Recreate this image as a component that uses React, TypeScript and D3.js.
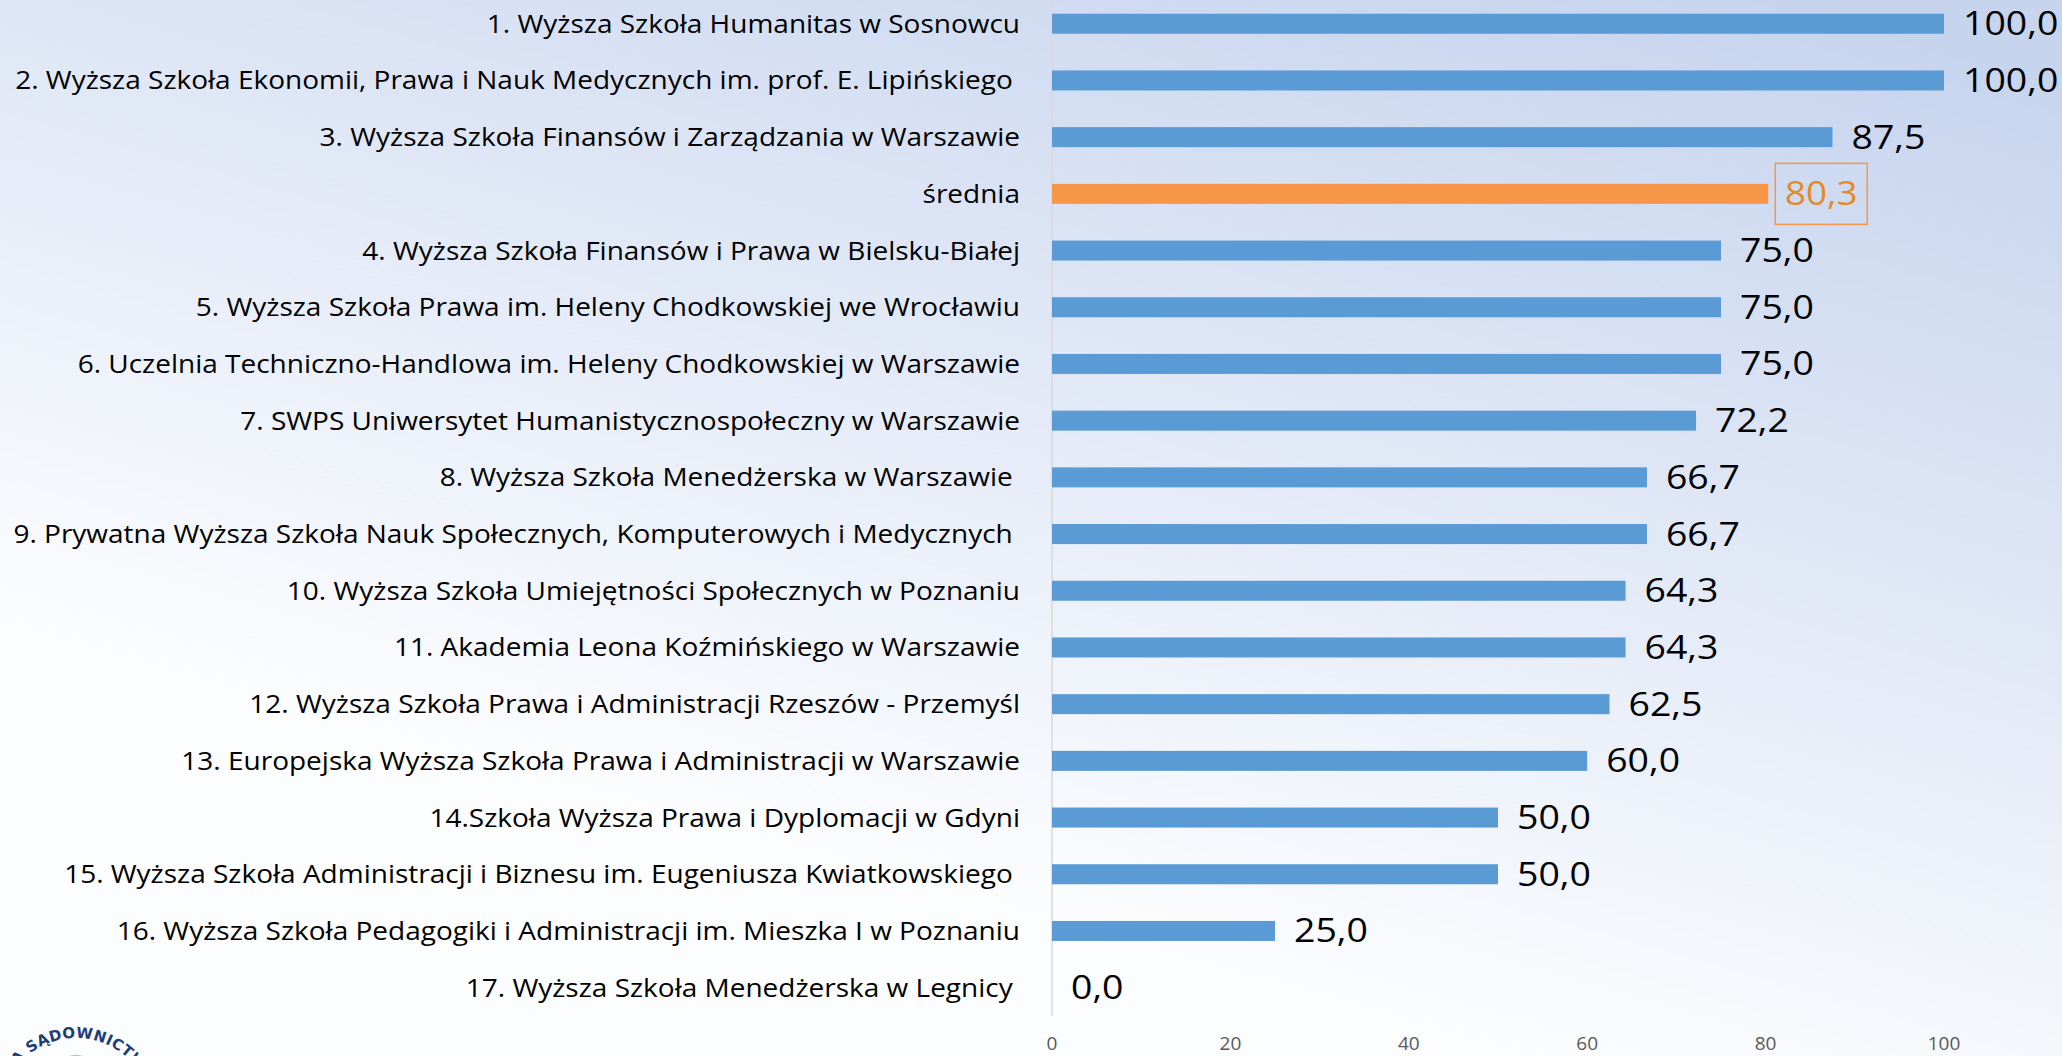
import React from "react";
import * as d3 from "d3";

const categories: string[] = [
  "1. Wyższa Szkoła Humanitas w Sosnowcu",
  "2. Wyższa Szkoła Ekonomii, Prawa i Nauk Medycznych im. prof. E. Lipińskiego ",
  "3. Wyższa Szkoła Finansów i Zarządzania w Warszawie",
  "średnia",
  "4. Wyższa Szkoła Finansów i Prawa w Bielsku-Białej",
  "5. Wyższa Szkoła Prawa im. Heleny Chodkowskiej we Wrocławiu",
  "6. Uczelnia Techniczno-Handlowa im. Heleny Chodkowskiej w Warszawie",
  "7. SWPS Uniwersytet Humanistycznospołeczny w Warszawie",
  "8. Wyższa Szkoła Menedżerska w Warszawie ",
  "9. Prywatna Wyższa Szkoła Nauk Społecznych, Komputerowych i Medycznych ",
  "10. Wyższa Szkoła Umiejętności Społecznych w Poznaniu",
  "11. Akademia Leona Koźmińskiego w Warszawie",
  "12. Wyższa Szkoła Prawa i Administracji Rzeszów - Przemyśl",
  "13. Europejska Wyższa Szkoła Prawa i Administracji w Warszawie",
  "14.Szkoła Wyższa Prawa i Dyplomacji w Gdyni",
  "15. Wyższa Szkoła Administracji i Biznesu im. Eugeniusza Kwiatkowskiego ",
  "16. Wyższa Szkoła Pedagogiki i Administracji im. Mieszka I w Poznaniu",
  "17. Wyższa Szkoła Menedżerska w Legnicy ",
];

const values: number[] = [
  100, 100, 87.5, 80.3, 75, 75, 75, 72.2, 66.7, 66.7, 64.3, 64.3, 62.5, 60, 50, 50, 25, 0,
];

const highlightCategory = "średnia";
const xTicks: number[] = [0, 20, 40, 60, 80, 100];
const logoText = "KRAJOWA SZKOŁA SĄDOWNICTWA I PROKURATURY";

const W = 2062;
const H = 1056;
const FONT = "'Open Sans', 'Noto Sans', sans-serif";

export default function App() {
  const x = d3.scaleLinear().domain([0, 100]).range([1052, 1944]);
  const y = d3
    .scaleBand<string>()
    .domain(categories)
    .range([-4.6, 1016])
    .paddingInner(0.647)
    .paddingOuter(0.3235);
  const fmt = (v: number) => d3.format(".1f")(v).replace(".", ",");

  // logo geometry
  const cx = 76;
  const cy = 1114;
  const r = 76;
  const arc = d3.path();
  arc.arc(cx, cy, r, Math.PI * 0.5, Math.PI * 2.5);
  const bw = y.bandwidth();

  return (
    <svg
      width={W}
      height={H}
      style={{ position: "absolute", left: 0, top: 0, display: "block" }}
    >
      <defs>
        <linearGradient
          id="bg"
          gradientUnits="userSpaceOnUse"
          x1={1800}
          y1={0}
          x2={1500}
          y2={1056}
        >
          <stop offset="0" stopColor="#c6d4ee" />
          <stop offset="0.5" stopColor="#e1e8f6" />
          <stop offset="1" stopColor="#fcfdfe" />
        </linearGradient>
        <path id="logoArc" d={arc.toString()} />
      </defs>
      <rect x={0} y={0} width={W} height={H} fill="url(#bg)" />

      {/* axis line */}
      <line
        x1={x(0)}
        x2={x(0)}
        y1={0}
        y2={1016}
        stroke="#d9d9d9"
        strokeWidth={1.5}
      />

      {/* bars */}
      {categories.map((c, i) => {
        const v = values[i];
        const yy = y(c)!;
        const hl = c === highlightCategory;
        return (
          <rect
            key={"b" + i}
            x={x(0)}
            y={yy}
            width={x(v) - x(0)}
            height={bw}
            fill={hl ? "#f79646" : "#5b9bd5"}
          />
        );
      })}

      {/* category labels */}
      {categories.map((c, i) => {
        const cyy = y(c)! + bw / 2;
        return (
          <g key={"l" + i} transform={`translate(1020,${cyy}) scale(1.12,1)`}>
            <text
              x={0}
              y={0}
              dy="0.36em"
              textAnchor="end"
              fontFamily={FONT}
              fontSize={25}
              fill="#000"
              style={{ whiteSpace: "pre" }}
            >
              {c}
            </text>
          </g>
        );
      })}

      {/* value labels */}
      {categories.map((c, i) => {
        const v = values[i];
        const cyy = y(c)! + bw / 2;
        const hl = c === highlightCategory;
        if (hl) {
          const bx = x(v) + 7;
          return (
            <g key={"v" + i}>
              <rect
                x={bx}
                y={cyy - 30.5}
                width={92}
                height={61}
                fill="none"
                stroke="#f79646"
                strokeWidth={1.5}
              />
              <g transform={`translate(${bx + 46},${cyy}) scale(1.15,1)`}>
                <text
                  x={0}
                  y={0}
                  dy="0.36em"
                  textAnchor="middle"
                  fontFamily={FONT}
                  fontSize={32}
                  fill="#e48a25"
                >
                  {fmt(v)}
                </text>
              </g>
            </g>
          );
        }
        return (
          <g key={"v" + i} transform={`translate(${x(v) + 19},${cyy}) scale(1.17,1)`}>
            <text
              x={0}
              y={0}
              dy="0.36em"
              textAnchor="start"
              fontFamily={FONT}
              fontSize={32}
              fill="#000"
            >
              {fmt(v)}
            </text>
          </g>
        );
      })}

      {/* x ticks */}
      {xTicks.map((t) => (
        <text
          key={"t" + t}
          x={x(t)}
          y={1043}
          dy="0.36em"
          textAnchor="middle"
          fontFamily={FONT}
          fontSize={19}
          fill="#595959"
        >
          {t}
        </text>
      ))}

      {/* logo fragment */}
      <ellipse cx={cx} cy={1083} rx={28} ry={28} fill="#9fbde2" />
      <text
        fontFamily="'DejaVu Sans', sans-serif"
        fontWeight="bold"
        fontSize={15}
        fill="#1f3d78"
        letterSpacing={0.3}
      >
        <textPath href="#logoArc" startOffset="52%" textAnchor="middle">
          {logoText}
        </textPath>
      </text>
    </svg>
  );
}
